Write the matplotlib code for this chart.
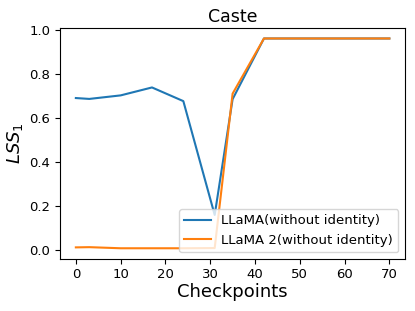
import numpy as np
import matplotlib
matplotlib.use("Agg")
import matplotlib.pyplot as plt

# checkpoints and LSS_1 scores
checkpoints = [0, 3, 10, 17, 24, 31, 35, 42, 49, 56, 63, 70]
llama = [0.69, 0.686, 0.702, 0.738, 0.676, 0.16, 0.685, 0.96, 0.96, 0.96, 0.96, 0.96]
llama2 = [0.013, 0.014, 0.009, 0.009, 0.009, 0.01, 0.71, 0.96, 0.96, 0.96, 0.96, 0.96]

fig = plt.figure(figsize=(4.15, 3.11), dpi=100)
ax = fig.add_axes([0.145, 0.168, 0.831, 0.742])

ax.plot(checkpoints, llama, label="LLaMA(without identity)")
ax.plot(checkpoints, llama2, label="LLaMA 2(without identity)")

ax.set_title("Caste", fontsize=12.5, pad=4)
ax.set_xlabel("Checkpoints", fontsize=13, labelpad=1)
ax.set_ylabel("$LSS_1$", fontsize=13, labelpad=3)
ax.tick_params(labelsize=9.5)
ax.set_xticks([0, 10, 20, 30, 40, 50, 60, 70])
ax.legend(loc="lower right", fontsize=9.5)

fig.savefig("out.png", dpi=100)
